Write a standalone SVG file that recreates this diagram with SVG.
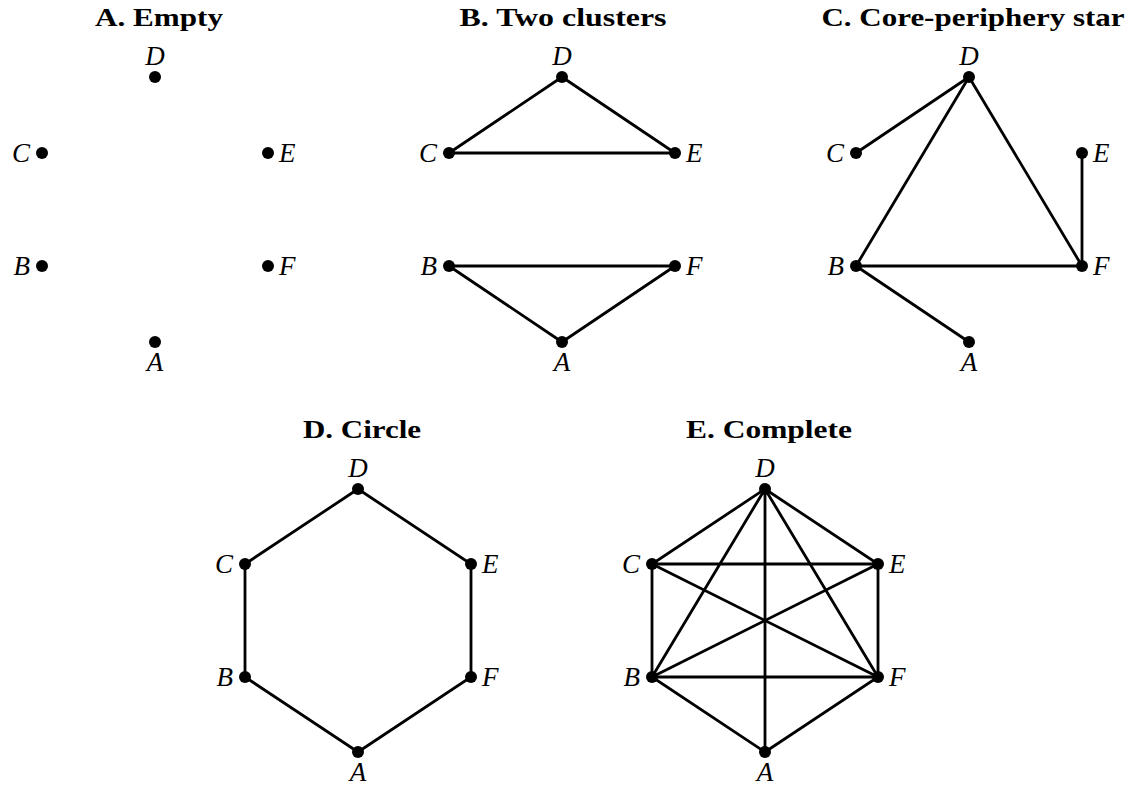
<svg xmlns="http://www.w3.org/2000/svg" width="1134" height="787" viewBox="0 0 1134 787">
<style>
.t{font-family:"Liberation Serif","Times New Roman",serif;font-weight:bold;font-size:26px;text-anchor:middle;fill:#000}
.l{font-family:"Liberation Serif","Times New Roman",serif;font-style:italic;font-size:27px;fill:#000}
.n{fill:#000}
.e{stroke:#000;stroke-width:2.8;fill:none;stroke-linecap:round}
.m{text-anchor:middle}
.s{text-anchor:end}
</style>
<rect width="1134" height="787" fill="#fff"/>
<g id="titles">
<text class="t" x="159" y="26" textLength="128" lengthAdjust="spacingAndGlyphs">A. Empty</text>
<text class="t" x="563" y="26" textLength="207" lengthAdjust="spacingAndGlyphs">B. Two clusters</text>
<text class="t" x="973" y="26" textLength="303" lengthAdjust="spacingAndGlyphs">C. Core-periphery star</text>
<text class="t" x="362" y="438" textLength="118" lengthAdjust="spacingAndGlyphs">D. Circle</text>
<text class="t" x="769" y="438" textLength="166" lengthAdjust="spacingAndGlyphs">E. Complete</text>
</g>
<g id="connectors">
<!-- B -->
<line class="e" x1="562" y1="77" x2="449" y2="153"/>
<line class="e" x1="562" y1="77" x2="675" y2="153"/>
<line class="e" x1="449" y1="153" x2="675" y2="153"/>
<line class="e" x1="449" y1="266" x2="675" y2="266"/>
<line class="e" x1="449" y1="266" x2="562" y2="342"/>
<line class="e" x1="675" y1="266" x2="562" y2="342"/>
<!-- C -->
<line class="e" x1="969" y1="77" x2="856" y2="153"/>
<line class="e" x1="969" y1="77" x2="856" y2="266"/>
<line class="e" x1="969" y1="77" x2="1082" y2="266"/>
<line class="e" x1="1082" y1="153" x2="1082" y2="266"/>
<line class="e" x1="856" y1="266" x2="1082" y2="266"/>
<line class="e" x1="856" y1="266" x2="969" y2="342"/>
<!-- D -->
<polygon class="e" points="358,489 245,564 245,677 358,752 471,677 471,564"/>
<!-- E -->
<polygon class="e" points="765,489 652,564 652,677 765,752 878,677 878,564"/>
<line class="e" x1="765" y1="489" x2="652" y2="677"/>
<line class="e" x1="765" y1="489" x2="765" y2="752"/>
<line class="e" x1="765" y1="489" x2="878" y2="677"/>
<line class="e" x1="652" y1="564" x2="878" y2="564"/>
<line class="e" x1="652" y1="564" x2="878" y2="677"/>
<line class="e" x1="652" y1="677" x2="878" y2="677"/>
<line class="e" x1="652" y1="677" x2="878" y2="564"/>
</g>
<!-- Panel A nodes -->
<g id="A-D"><circle class="n" cx="155" cy="77" r="6"/><text class="l m" x="155" y="65">D</text></g>
<g id="A-C"><circle class="n" cx="42" cy="153" r="6"/><text class="l s" x="30" y="162">C</text></g>
<g id="A-E"><circle class="n" cx="268" cy="153" r="6"/><text class="l" x="279" y="162">E</text></g>
<g id="A-B"><circle class="n" cx="42" cy="266" r="6"/><text class="l s" x="30" y="275">B</text></g>
<g id="A-F"><circle class="n" cx="268" cy="266" r="6"/><text class="l" x="279" y="275">F</text></g>
<g id="A-A"><circle class="n" cx="155" cy="342" r="6"/><text class="l m" x="155" y="371">A</text></g>
<!-- Panel B nodes -->
<g id="B-D"><circle class="n" cx="562" cy="77" r="6"/><text class="l m" x="562" y="65">D</text></g>
<g id="B-C"><circle class="n" cx="449" cy="153" r="6"/><text class="l s" x="437" y="162">C</text></g>
<g id="B-E"><circle class="n" cx="675" cy="153" r="6"/><text class="l" x="686" y="162">E</text></g>
<g id="B-B"><circle class="n" cx="449" cy="266" r="6"/><text class="l s" x="437" y="275">B</text></g>
<g id="B-F"><circle class="n" cx="675" cy="266" r="6"/><text class="l" x="686" y="275">F</text></g>
<g id="B-A"><circle class="n" cx="562" cy="342" r="6"/><text class="l m" x="562" y="371">A</text></g>
<!-- Panel C nodes -->
<g id="C-D"><circle class="n" cx="969" cy="77" r="6"/><text class="l m" x="969" y="65">D</text></g>
<g id="C-C"><circle class="n" cx="856" cy="153" r="6"/><text class="l s" x="844" y="162">C</text></g>
<g id="C-E"><circle class="n" cx="1082" cy="153" r="6"/><text class="l" x="1093" y="162">E</text></g>
<g id="C-B"><circle class="n" cx="856" cy="266" r="6"/><text class="l s" x="844" y="275">B</text></g>
<g id="C-F"><circle class="n" cx="1082" cy="266" r="6"/><text class="l" x="1093" y="275">F</text></g>
<g id="C-A"><circle class="n" cx="969" cy="342" r="6"/><text class="l m" x="969" y="371">A</text></g>
<!-- Panel D nodes -->
<g id="D-D"><circle class="n" cx="358" cy="489" r="6"/><text class="l m" x="358" y="477">D</text></g>
<g id="D-C"><circle class="n" cx="245" cy="564" r="6"/><text class="l s" x="233" y="573">C</text></g>
<g id="D-E"><circle class="n" cx="471" cy="564" r="6"/><text class="l" x="482" y="573">E</text></g>
<g id="D-B"><circle class="n" cx="245" cy="677" r="6"/><text class="l s" x="233" y="686">B</text></g>
<g id="D-F"><circle class="n" cx="471" cy="677" r="6"/><text class="l" x="482" y="686">F</text></g>
<g id="D-A"><circle class="n" cx="358" cy="752" r="6"/><text class="l m" x="358" y="781">A</text></g>
<!-- Panel E nodes -->
<g id="E-D"><circle class="n" cx="765" cy="489" r="6"/><text class="l m" x="765" y="477">D</text></g>
<g id="E-C"><circle class="n" cx="652" cy="564" r="6"/><text class="l s" x="640" y="573">C</text></g>
<g id="E-E"><circle class="n" cx="878" cy="564" r="6"/><text class="l" x="889" y="573">E</text></g>
<g id="E-B"><circle class="n" cx="652" cy="677" r="6"/><text class="l s" x="640" y="686">B</text></g>
<g id="E-F"><circle class="n" cx="878" cy="677" r="6"/><text class="l" x="889" y="686">F</text></g>
<g id="E-A"><circle class="n" cx="765" cy="752" r="6"/><text class="l m" x="765" y="781">A</text></g>
</svg>
